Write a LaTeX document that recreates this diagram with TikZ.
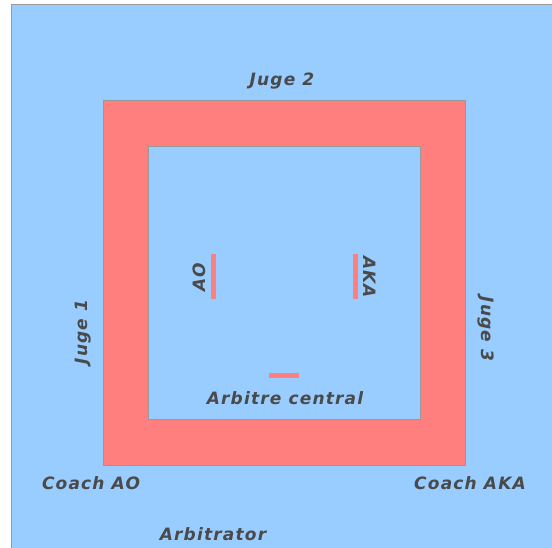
\documentclass[tikz,border=0pt]{standalone}
\usepackage{fontspec}
\newfontfamily\lblfont{DejaVu Sans}[LetterSpace=7]
\definecolor{fieldblue}{HTML}{99CCFF}
\definecolor{matred}{HTML}{FF7F7F}
\definecolor{edgegray}{HTML}{999999}
\definecolor{txtgray}{HTML}{4A4A4A}
\begin{document}
\begin{tikzpicture}[x=1pt,y=-1pt,
  lbl/.style={text=txtgray,font=\lblfont\bfseries\itshape\fontsize{17}{20}\selectfont,inner sep=0pt,anchor=base},
  bar/.style={draw=none,fill=matred}]
\useasboundingbox (0,0) rectangle (552,548);
\fill[white] (0,0) rectangle (552,548);
\filldraw[fill=fieldblue,draw=edgegray,line width=1pt] (11,5) rectangle (553,549);
\filldraw[fill=matred,draw=edgegray,line width=0.8pt] (103,100) rectangle (465,465);
\filldraw[fill=fieldblue,draw=edgegray,line width=0.8pt] (148,146) rectangle (420,419);
\fill[matred] (211,254) rectangle (216,299);
\fill[matred] (353,254) rectangle (358,299);
\fill[matred] (269,373) rectangle (299,378);
\node[lbl] (j2) at (282,86) {Juge 2};
\node[lbl,rotate=90] (j1) at (87,332) {Juge 1};
\node[lbl,rotate=-90] (j3) at (481,329) {Juge 3};
\node[lbl,rotate=90] (ao) at (205,277) {AO};
\node[lbl,rotate=-90] (aka) at (363,277) {AKA};
\node[lbl] (ac) at (285,404) {Arbitre central};
\node[lbl] (cao) at (91,489) {Coach AO};
\node[lbl] (caka) at (470,489) {Coach AKA};
\node[lbl] (arb) at (213,540) {Arbitrator};
\end{tikzpicture}
\end{document}
